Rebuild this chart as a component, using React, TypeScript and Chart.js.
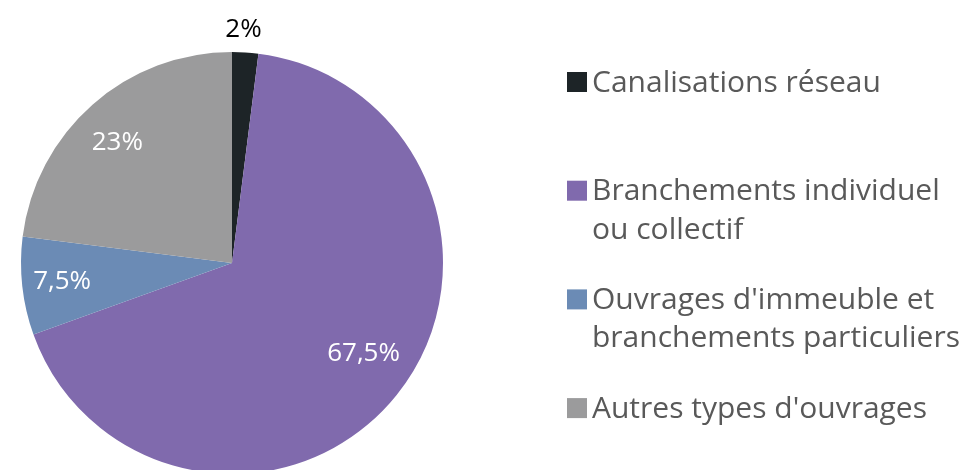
import React, { useEffect, useRef } from "react";
import { Chart, registerables } from "chart.js";

Chart.register(...registerables);

const categories: string[][] = [
  ["Canalisations réseau"],
  ["Branchements individuel", "ou collectif"],
  ["Ouvrages d'immeuble et", "branchements particuliers"],
  ["Autres types d'ouvrages"],
];
const values: number[] = [2, 67.5, 7.5, 23];
const valueLabels: string[] = ["2%", "67,5%", "7,5%", "23%"];
const colors: string[] = ["#1d2427", "#806aad", "#6b8bb5", "#9b9b9c"];
const labelColors: string[] = ["#000000", "#ffffff", "#ffffff", "#ffffff"];

const FONT = "'Open Sans', 'DejaVu Sans', sans-serif";
const labelRadiusFactor = [1.09, 0.72, 0.81, 0.8];
const labelNudge: [number, number][] = [[-3, -4], [13, -4], [0, 0], [-3, 6]];

const overlayPlugin = {
  id: "overlay",
  afterDatasetsDraw(chart: any) {
    const ctx = chart.ctx;
    const meta = chart.getDatasetMeta(0);
    ctx.save();
    // value labels
    ctx.font = `26px ${FONT}`;
    ctx.textAlign = "center";
    ctx.textBaseline = "middle";
    meta.data.forEach((arc: any, i: number) => {
      const p = arc.getProps(["x", "y", "startAngle", "endAngle", "outerRadius"], true);
      const mid = (p.startAngle + p.endAngle) / 2;
      const r = p.outerRadius * labelRadiusFactor[i];
      ctx.fillStyle = labelColors[i];
      ctx.fillText(
        valueLabels[i],
        p.x + Math.cos(mid) * r + labelNudge[i][0],
        p.y + Math.sin(mid) * r + labelNudge[i][1]
      );
    });
    // legend
    const lx = 567;
    const ly0 = 82;
    const step = 108.7;
    const lineH = 38.5;
    ctx.textAlign = "left";
    ctx.font = `30px ${FONT}`;
    categories.forEach((lines, i) => {
      const y = ly0 + i * step;
      ctx.fillStyle = colors[i];
      ctx.fillRect(lx, y - 10, 20, 20);
      ctx.fillStyle = "#595959";
      lines.forEach((t, j) => {
        ctx.fillText(t, lx + 25, y + 1 + j * lineH);
      });
    });
    ctx.restore();
  },
};

export default function App() {
  const ref = useRef<HTMLCanvasElement | null>(null);
  useEffect(() => {
    if (!ref.current) return;
    const chart = new Chart(ref.current, {
      type: "pie",
      data: {
        labels: categories.map((c) => c.join(" ")),
        datasets: [
          {
            data: values,
            backgroundColor: colors,
            borderWidth: 0,
          },
        ],
      },
      options: {
        responsive: false,
        animation: false,
        devicePixelRatio: 1,
        layout: { padding: { top: 52, bottom: 16, left: 21, right: 531 } },
        plugins: {
          legend: { display: false },
          tooltip: { enabled: false },
        },
      },
      plugins: [overlayPlugin],
    });
    return () => chart.destroy();
  }, []);
  return (
    <div
      style={{
        position: "fixed",
        left: 0,
        top: 0,
        width: 974,
        height: 470,
        overflow: "hidden",
        background: "#ffffff",
      }}
    >
      <canvas ref={ref} width={974} height={490} style={{ display: "block" }} />
    </div>
  );
}
